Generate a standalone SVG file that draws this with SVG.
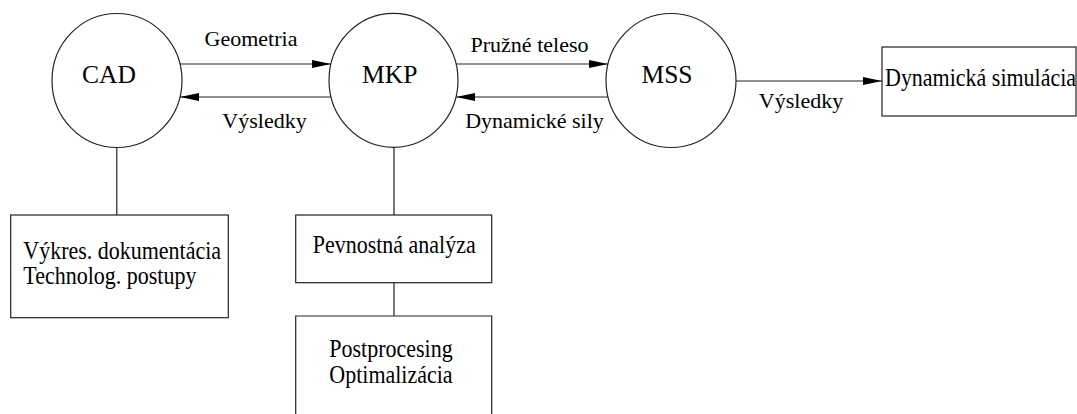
<svg xmlns="http://www.w3.org/2000/svg" width="1077" height="414" viewBox="0 0 1077 414">
<style>
.shape{fill:#fff;stroke:#222;stroke-width:1.2}
.edge{fill:none;stroke:#222;stroke-width:1.2}
.big{font-family:"Liberation Serif","Times New Roman",serif;font-size:25.5px;fill:#000}
.lbl{font-family:"Liberation Serif","Times New Roman",serif;font-size:22px;fill:#000}
</style>
<defs>
<marker id="arr" markerUnits="userSpaceOnUse" markerWidth="20" markerHeight="10" refX="19" refY="4" orient="auto">
<path d="M0,0 L19,4 L0,8 z" fill="#000"/>
</marker>
</defs>
<rect width="1077" height="414" fill="#fff"/>
<g id="connectors">
<line class="edge" x1="180" y1="64" x2="331" y2="64" marker-end="url(#arr)"/>
<line class="edge" x1="331" y1="97" x2="180" y2="97" marker-end="url(#arr)"/>
<line class="edge" x1="456" y1="64" x2="608" y2="64" marker-end="url(#arr)"/>
<line class="edge" x1="608" y1="97" x2="456" y2="97" marker-end="url(#arr)"/>
<line class="edge" x1="736" y1="81" x2="882" y2="81" marker-end="url(#arr)"/>
<line class="edge" x1="116.8" y1="147.5" x2="116.8" y2="215"/>
<line class="edge" x1="394" y1="147" x2="394" y2="215"/>
<line class="edge" x1="394" y1="282.7" x2="394" y2="316"/>
<text class="lbl" x="251" y="46" text-anchor="middle">Geometria</text>
<text class="lbl" x="264.5" y="128" text-anchor="middle">Výsledky</text>
<text class="lbl" x="529.5" y="52" text-anchor="middle">Pružné teleso</text>
<text class="lbl" x="534.5" y="128" text-anchor="middle">Dynamické sily</text>
<text class="lbl" x="801" y="108" text-anchor="middle">Výsledky</text>
</g>
<g id="cad">
<ellipse class="shape" cx="117" cy="80.5" rx="65" ry="67"/>
<text class="big" x="109" y="82.5" text-anchor="middle">CAD</text>
</g>
<g id="mkp">
<ellipse class="shape" cx="393.5" cy="80.3" rx="64.5" ry="67"/>
<text class="big" x="389.7" y="82.5" text-anchor="middle">MKP</text>
</g>
<g id="mss">
<ellipse class="shape" cx="671" cy="80.5" rx="65" ry="67"/>
<text class="big" x="667" y="82.5" text-anchor="middle">MSS</text>
</g>
<g id="dynsim">
<rect class="shape" x="882" y="47" width="194" height="69"/>
<text class="lbl" transform="translate(885,86) scale(1,1.1)">Dynamická simulácia</text>
</g>
<g id="vykres">
<rect class="shape" x="10.7" y="215" width="217.6" height="102.7"/>
<text class="lbl" transform="translate(23.3,259) scale(1,1.1)">Výkres. dokumentácia</text>
<text class="lbl" transform="translate(23.3,284) scale(1,1.1)">Technolog. postupy</text>
</g>
<g id="pevnost">
<rect class="shape" x="295.7" y="215" width="196" height="67.7"/>
<text class="lbl" transform="translate(312.7,253.3) scale(1,1.1)">Pevnostná analýza</text>
</g>
<g id="postproc">
<path class="edge" d="M295.7,420 V316 H491.7 V420"/>
<text class="lbl" transform="translate(329.3,356.7) scale(1,1.1)">Postprocesing</text>
<text class="lbl" transform="translate(329.3,382.7) scale(1,1.1)">Optimalizácia</text>
</g>
</svg>
